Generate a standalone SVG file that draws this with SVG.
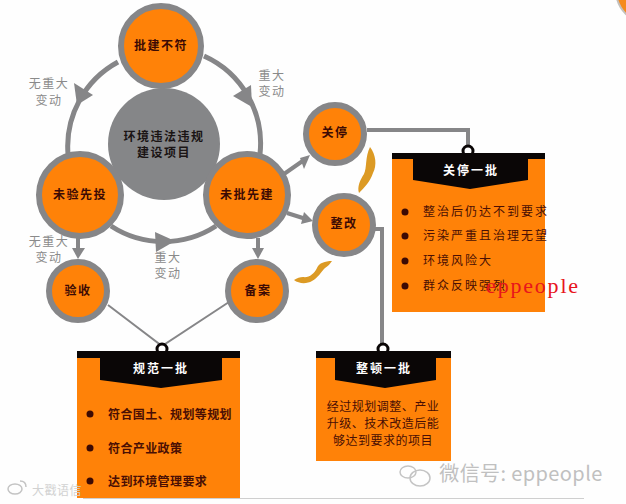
<svg xmlns="http://www.w3.org/2000/svg" width="626" height="504" viewBox="0 0 626 504">
<defs><style>
text{font-family:"Noto Sans CJK SC","Noto Sans",sans-serif;text-anchor:middle}
.o{fill:#ff8208;stroke:#868688;stroke-width:6}
.n{font-size:12px;font-weight:700;fill:#3c0a04;letter-spacing:1.5px}
.m{font-size:12px;fill:#1a1414;font-weight:700;letter-spacing:1.5px}
.l{font-size:12px;fill:#8a8a8a;letter-spacing:1.5px}
.w{font-size:12px;font-weight:700;fill:#fff;letter-spacing:2px}
.t{font-size:12px;fill:#4a0f04;letter-spacing:2px;text-anchor:start}
.u{font-size:12px;font-weight:700;fill:#4a0f04;letter-spacing:.4px;text-anchor:start}
.z{font-size:12px;fill:#4a0f04;letter-spacing:.5px}
.c{fill:none;stroke:#868688;stroke-width:4}
.a{fill:none;stroke:#868688;stroke-width:5}
.f{fill:none;stroke:#868688;stroke-width:2}
.h{fill:#868688}
.b{fill:#ff8208}.k{fill:#0a0606}
.d{fill:#3c0a04}
.g{fill:#dc9a24}
.e{fill:#fff;stroke:#0a0606;stroke-width:3}
.q{fill:none;stroke:#c4c4c4;stroke-width:1.5}
</style></defs>
<rect width="626" height="504" fill="#fefefe"/>
<circle cx="650" cy="-10" r="34" fill="#f58a1e" stroke="#c4c0bc" stroke-width="2"/>
<g id="connectors">
<path class="a" d="M118 62A96 96 0 0 0 68 154M204 56A96 96 0 0 1 260 154M111 226A96 96 0 0 0 216 226"/>
<polygon class="h" points="74,83 93,95 77,105"/>
<polygon class="h" points="251,85 233,96 252,107"/>
<polygon class="h" points="155,232 175,241 156,252"/>
<path class="c" d="M78 238V250M258 238V250M284 174L304 160M287 213L306 219"/>
<polygon class="h" points="72,248 85,248 78,259"/>
<polygon class="h" points="252,248 264,248 258,259"/>
<polygon class="h" points="310,155 300,158 304,169"/>
<polygon class="h" points="313,221 304,212 301,224"/>
<path class="c" d="M367 130H468V148M375 229H382V346"/>
<path class="f" d="M108 305L162 346L229 302"/>
<path class="g" d="M370 147C376 155 377 165 373 173C370 182 364 188 359 193C357 187 360 180 364 174C367 168 365 157 370 147Z"/>
<path class="g" d="M332 261C325 261 319 263 317 268C314 274 309 278 303 277C300 277 297 278 294 280C299 284 307 284 312 281C318 278 321 272 325 268C328 266 330 264 332 261Z"/>
</g>
<g id="node-pjbf"><circle class="o" cx="161" cy="46" r="40"/><text class="n" x="161" y="50">批建不符</text></g>
<g id="node-center"><circle cx="164" cy="144" r="56" fill="#858688"/><text class="m" x="164" y="141">环境违法违规</text><text class="m" x="164" y="157">建设项目</text></g>
<g id="node-wyxt"><circle class="o" cx="80" cy="195" r="41"/><text class="n" x="80" y="199">未验先投</text></g>
<g id="node-wpxj"><circle class="o" cx="247" cy="195" r="41"/><text class="n" x="247" y="199">未批先建</text></g>
<g id="node-ys"><circle class="o" cx="78" cy="291" r="29"/><text class="n" x="78" y="295">验收</text></g>
<g id="node-ba"><circle class="o" cx="257" cy="291" r="29"/><text class="n" x="258" y="295">备案</text></g>
<g id="node-gt"><circle class="o" cx="335" cy="134" r="29"/><text class="n" x="335" y="137">关停</text></g>
<g id="node-zg"><circle class="o" cx="344" cy="225" r="29"/><text class="n" x="344" y="228">整改</text></g>
<g id="labels">
<text class="l" x="49" y="88">无重大</text><text class="l" x="49" y="105">变动</text>
<text class="l" x="272" y="80">重大</text><text class="l" x="272" y="96">变动</text>
<text class="l" x="49" y="246">无重大</text><text class="l" x="49" y="262">变动</text>
<text class="l" x="168" y="262">重大</text><text class="l" x="168" y="278">变动</text>
</g>
<g id="box-gt">
<circle class="e" cx="468" cy="151" r="5"/>
<rect class="b" x="392" y="153" width="153" height="159"/>
<rect class="k" x="392" y="153" width="153" height="6"/>
<polygon class="k" points="413,159 528,159 528,180 470,189 413,180"/>
<text class="w" x="471" y="175">关停一批</text>
<circle class="d" cx="405" cy="212" r="3.5"/><text class="t" x="423" y="216">整治后仍达不到要求</text>
<circle class="d" cx="405" cy="236" r="3.5"/><text class="t" x="423" y="240">污染严重且治理无望</text>
<circle class="d" cx="405" cy="261" r="3.5"/><text class="t" x="423" y="265">环境风险大</text>
<circle class="d" cx="405" cy="286" r="3.5"/><text class="t" x="423" y="290">群众反映强烈</text>
</g>
<g id="box-gf">
<circle class="e" cx="162" cy="349" r="5"/>
<rect class="b" x="77" y="351" width="163" height="147"/>
<rect class="k" x="77" y="351" width="163" height="7"/>
<polygon class="k" points="100,358 222,358 222,380 161,388 100,380"/>
<text class="w" x="161" y="373">规范一批</text>
<circle class="d" cx="90" cy="414" r="3.5"/><text class="u" x="108" y="419">符合国土、规划等规划</text>
<circle class="d" cx="90" cy="448" r="3.5"/><text class="u" x="108" y="453">符合产业政策</text>
<circle class="d" cx="90" cy="481" r="3.5"/><text class="u" x="108" y="486">达到环境管理要求</text>
</g>
<g id="box-zd">
<circle class="e" cx="383" cy="349" r="5"/>
<rect class="b" x="316" y="351" width="135" height="110"/>
<rect class="k" x="316" y="351" width="135" height="7"/>
<polygon class="k" points="335,358 436,358 436,380 385,388 335,380"/>
<text class="w" x="384" y="373">整顿一批</text>
<text class="z" x="383" y="411">经过规划调整、产业</text>
<text class="z" x="383" y="428">升级、技术改造后能</text>
<text class="z" x="383" y="445">够达到要求的项目</text>
</g>
<text x="533" y="293" style="font-family:'Liberation Serif',serif;font-size:22px;letter-spacing:1.8px" fill="#e8141c">eppeople</text>
<g id="watermarks">
<path d="M83 498.500H584" stroke="#cfcfcf" stroke-width="1"/>
<ellipse class="q" cx="408" cy="472" rx="8" ry="6"/>
<ellipse class="q" cx="420" cy="478" rx="10" ry="8" fill="#fefefe"/>
<text x="521" y="481" style="font-size:20px;letter-spacing:.4px" fill="#c0c0c0">微信号: eppeople</text>
<ellipse class="q" cx="15" cy="489" rx="7" ry="5"/>
<path class="q" d="M20 481Q26 481 26 487"/>
<text x="57" y="495" style="font-size:12px;letter-spacing:.5px" fill="#d2d2d2">大戳语信</text>
</g>
</svg>
